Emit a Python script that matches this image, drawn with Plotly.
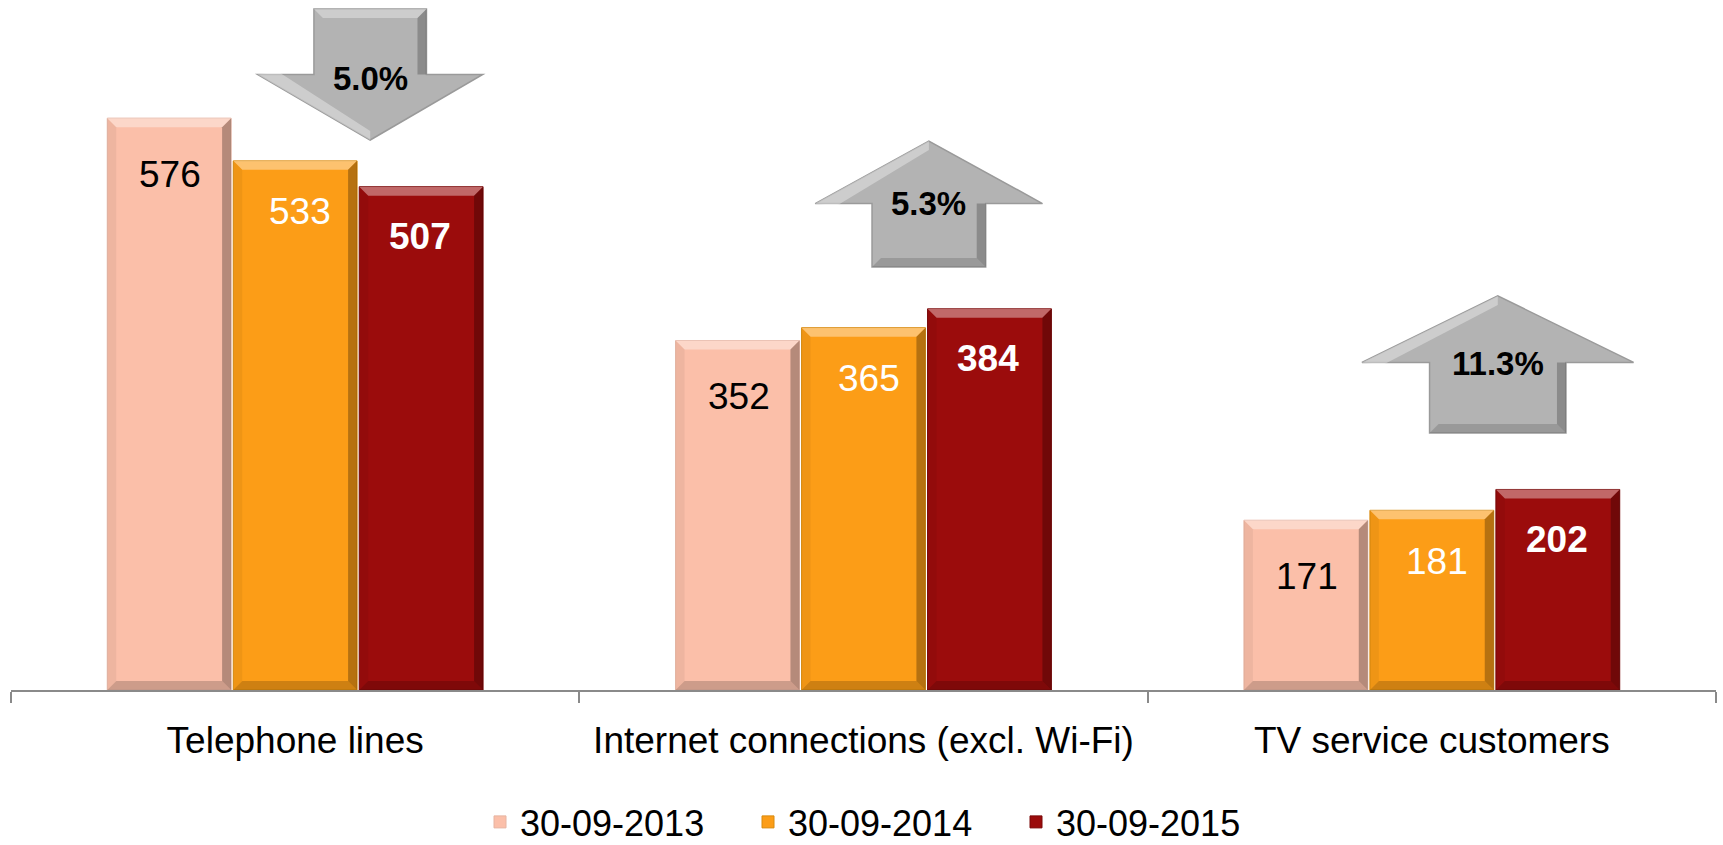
import plotly.graph_objects as go

# ---------------- data ----------------
categories = ["Telephone lines", "Internet connections (excl. Wi-Fi)", "TV service customers"]
series_names = ["30-09-2013", "30-09-2014", "30-09-2015"]
values_2013 = [576, 352, 171]
values_2014 = [533, 365, 181]
values_2015 = [507, 384, 202]
change_labels = ["5.0%", "5.3%", "11.3%"]
change_direction = ["down", "up", "up"]

# ---------------- styling ----------------
W, H = 1723, 845
ML, MR, MT, MB = 11, 7, 5, 155
YMAX = 690
FONT = "Liberation Sans, Arial, sans-serif"
colors = ["#FBBFA9", "#FC9D17", "#9B0C0C"]
edge_colors = ["#E6B4A2", "#D88A0E", "#7A0808"]
label_colors = ["black", "white", "white"]
label_bold = [False, False, True]
label_yshift = [-56, -51, -50]
label_xshift = [1, 5, -1]

BARGAP = 0.335
GROUPGAP = 0.017
slot = (1 - BARGAP) / 3
half_w = slot * (1 - GROUPGAP) / 2

px_per_x = (W - ML - MR) / 3.0
px_per_y = (H - MT - MB) / YMAX

# arrow placement (annotation layout, in category units / value units)
arrow_layout = [
    dict(cx=0.132, tip=554, base=620, end=686, shaft=0.099, head=0.198, text_shift=-4),
    dict(cx=1.115, tip=553, base=490, end=426, shaft=0.100, head=0.200, text_shift=0),
    dict(cx=2.116, tip=397, base=330, end=259, shaft=0.120, head=0.239, text_shift=-1),
]

all_values = [values_2013, values_2014, values_2015]

fig = go.Figure()
for i, (name, vals) in enumerate(zip(series_names, all_values)):
    fig.add_trace(go.Bar(
        x=categories, y=vals, name=name,
        marker=dict(color=colors[i], line=dict(color=edge_colors[i], width=1)),
        hoverinfo="skip",
    ))


def to_paper(xd):
    return (xd + 0.5) / 3.0


def poly(pts):
    return "M " + " L ".join(f"{to_paper(x):.5f},{y:.3f}" for x, y in pts) + " Z"


shapes = []
annotations = []

# bevel effect on bars (derived from the same values)
dx = 9 / px_per_x
dy = 9 / px_per_y
for i, vals in enumerate(all_values):
    for j, v in enumerate(vals):
        xc = j + (i - 1) * slot
        xl, xr = xc - half_w, xc + half_w
        bevels = [
            ([(xl, v), (xr, v), (xr - dx, v - dy), (xl + dx, v - dy)], "rgba(255,255,255,0.38)"),
            ([(xr, v), (xr, 0), (xr - dx, dy), (xr - dx, v - dy)], "rgba(0,0,0,0.28)"),
            ([(xl, 0), (xr, 0), (xr - dx, dy), (xl + dx, dy)], "rgba(0,0,0,0.18)"),
            ([(xl, 0), (xl, v), (xl + dx, v - dy), (xl + dx, dy)], "rgba(0,0,0,0.05)"),
        ]
        for pts, col in bevels:
            shapes.append(dict(type="path", path=poly(pts), xref="paper", yref="y",
                               fillcolor=col, line=dict(width=0), layer="above"))
        txt = f"<b>{v}</b>" if label_bold[i] else f"{v}"
        annotations.append(dict(
            x=xc, y=v, xref="x", yref="y", text=txt,
            showarrow=False, yshift=label_yshift[i], xshift=label_xshift[i],
            font=dict(family=FONT, size=37, color=label_colors[i]),
        ))

# change arrows
for j, a in enumerate(arrow_layout):
    cx, tip, base, end, sh, hd = a["cx"], a["tip"], a["base"], a["end"], a["shaft"], a["head"]
    pts = [(cx - sh, end), (cx + sh, end), (cx + sh, base), (cx + hd, base),
           (cx, tip), (cx - hd, base), (cx - sh, base)]
    shapes.append(dict(type="path", path=poly(pts), xref="paper", yref="y",
                       fillcolor="#B3B3B3", line=dict(color="#9A9A9A", width=1.5),
                       layer="above"))
    sgn = 1 if change_direction[j] == "up" else -1
    shade = [(cx + sh, end), (cx + sh, base), (cx + sh - dx, base),
             (cx + sh - dx, end + sgn * dy)]
    shapes.append(dict(type="path", path=poly(shade), xref="paper", yref="y",
                       fillcolor="rgba(0,0,0,0.22)", line=dict(width=0), layer="above"))
    bottom = [(cx - sh, end), (cx + sh, end), (cx + sh - dx, end + sgn * dy),
              (cx - sh + dx, end + sgn * dy)]
    shapes.append(dict(type="path", path=poly(bottom), xref="paper", yref="y",
                       fillcolor="rgba(0,0,0,0.14)" if sgn > 0 else "rgba(255,255,255,0.35)",
                       line=dict(width=0), layer="above"))
    # light highlight on the head's leading slope
    hl = [(cx, tip), (cx - hd, base), (cx - hd + 2.2 * dx, base - sgn * 0.35 * dy),
          (cx, tip - sgn * dy)]
    shapes.append(dict(type="path", path=poly(hl), xref="paper", yref="y",
                       fillcolor="rgba(255,255,255,0.35)", line=dict(width=0), layer="above"))
    annotations.append(dict(
        x=cx, y=base, xref="x", yref="y", text=f"<b>{change_labels[j]}</b>",
        showarrow=False, yshift=a["text_shift"],
        font=dict(family=FONT, size=33, color="black"),
    ))

fig.update_layout(
    width=W, height=H,
    margin=dict(l=ML, r=MR, t=MT, b=MB, autoexpand=False),
    paper_bgcolor="white", plot_bgcolor="white",
    barmode="group", bargap=BARGAP, bargroupgap=GROUPGAP,
    font=dict(family=FONT, size=37, color="black"),
    showlegend=True, hovermode=False,
    legend=dict(orientation="h", xref="container", yref="container",
                x=480 / W, xanchor="left", y=1 - 822 / H, yanchor="middle",
                font=dict(family=FONT, size=36, color="black"),
                itemwidth=30, entrywidth=223, traceorder="normal",
                bgcolor="rgba(0,0,0,0)"),
    shapes=shapes,
    annotations=annotations,
)
fig.update_xaxes(
    type="category", showline=True, linecolor="#8A8A8A", linewidth=1.5,
    ticks="outside", tickson="boundaries", ticklen=11, tickcolor="#8A8A8A", tickwidth=1.5,
    tickfont=dict(family=FONT, size=37, color="black"), ticklabelstandoff=17,
    showgrid=False, range=[-0.5, 2.5], automargin=False,
)
fig.update_yaxes(visible=False, range=[0, YMAX], showgrid=False, zeroline=False, automargin=False)

fig.write_html("out.html", config={"displayModeBar": False},
               post_script="document.body.style.margin='0';")
